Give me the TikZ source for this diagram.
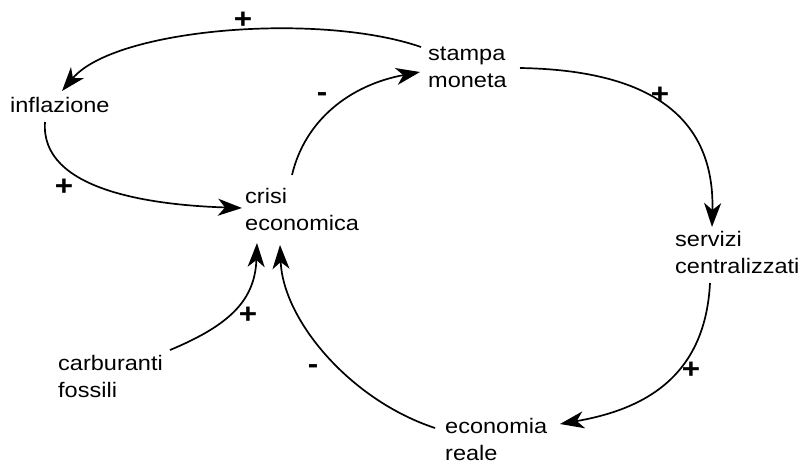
\documentclass[tikz,border=0pt]{standalone}
\usepackage{fontspec}
\setmainfont{Liberation Sans}[FakeStretch=1.12]
\usetikzlibrary{arrows.meta}
\begin{document}
\begin{tikzpicture}[x=1pt,y=-1pt,
  concept/.style={anchor=base west,align=left,inner sep=0pt,
    font=\fontsize{21}{27}\selectfont},
  link/.style={line width=1.7pt,-{Stealth[length=24pt,width=17pt,inset=7pt]}},
  sign/.style={inner sep=0pt,font=\fontsize{28}{28}\selectfont\bfseries}]
\useasboundingbox (0,0) rectangle (810,464);

% variables of the causal loop diagram (base = last line)
\node[concept] (infl)    at (10,112)  {inflazione};
\node[concept] (stampa)  at (428,87)  {stampa\\moneta};
\node[concept] (crisi)   at (245,230) {crisi\\economica};
\node[concept] (servizi) at (675,273) {servizi\\centralizzati};
\node[concept] (carb)    at (58,397)  {carburanti\\fossili};
\node[concept] (econ)    at (445,460) {economia\\reale};

% causal links
\draw[link] ([shift={(-7,-40)}]stampa.base west)
  .. controls (320,12) and (115,28) .. ([shift={(52,-21)}]infl.base west);
\draw[link] ([shift={(35,10)}]infl.base west)
  .. controls (40,190) and (150,205) .. ([shift={(-3,-22)}]crisi.base west);
\draw[link] ([shift={(47,-55)}]crisi.base west)
  .. controls (305,120) and (350,85) .. ([shift={(-8,-15)}]stampa.base west);
\draw[link] ([shift={(92,-19)}]stampa.base west)
  .. controls (640,70) and (715,110) .. ([shift={(37,-46)}]servizi.base west);
\draw[link] ([shift={(35,10)}]servizi.base west)
  .. controls (705,380) and (640,410) .. ([shift={(115,-36)}]econ.base west);
\draw[link] ([shift={(-10,-32)}]econ.base west)
  .. controls (350,400) and (283,320) .. ([shift={(35,15)}]crisi.base west);
\draw[link] ([shift={(112,-47)}]carb.base west)
  .. controls (230,325) and (255,300) .. ([shift={(12,13)}]crisi.base west);

% polarities
\node[sign] (p1) at (243,20)  {+};
\node[sign] (p2) at (64,187)  {+};
\node[sign] (p3) at (322,97)  {-};
\node[sign] (p4) at (660,95)  {+};
\node[sign] (p5) at (691,370) {+};
\node[sign] (p6) at (313,369) {-};
\node[sign] (p7) at (248,315) {+};
\end{tikzpicture}
\end{document}
